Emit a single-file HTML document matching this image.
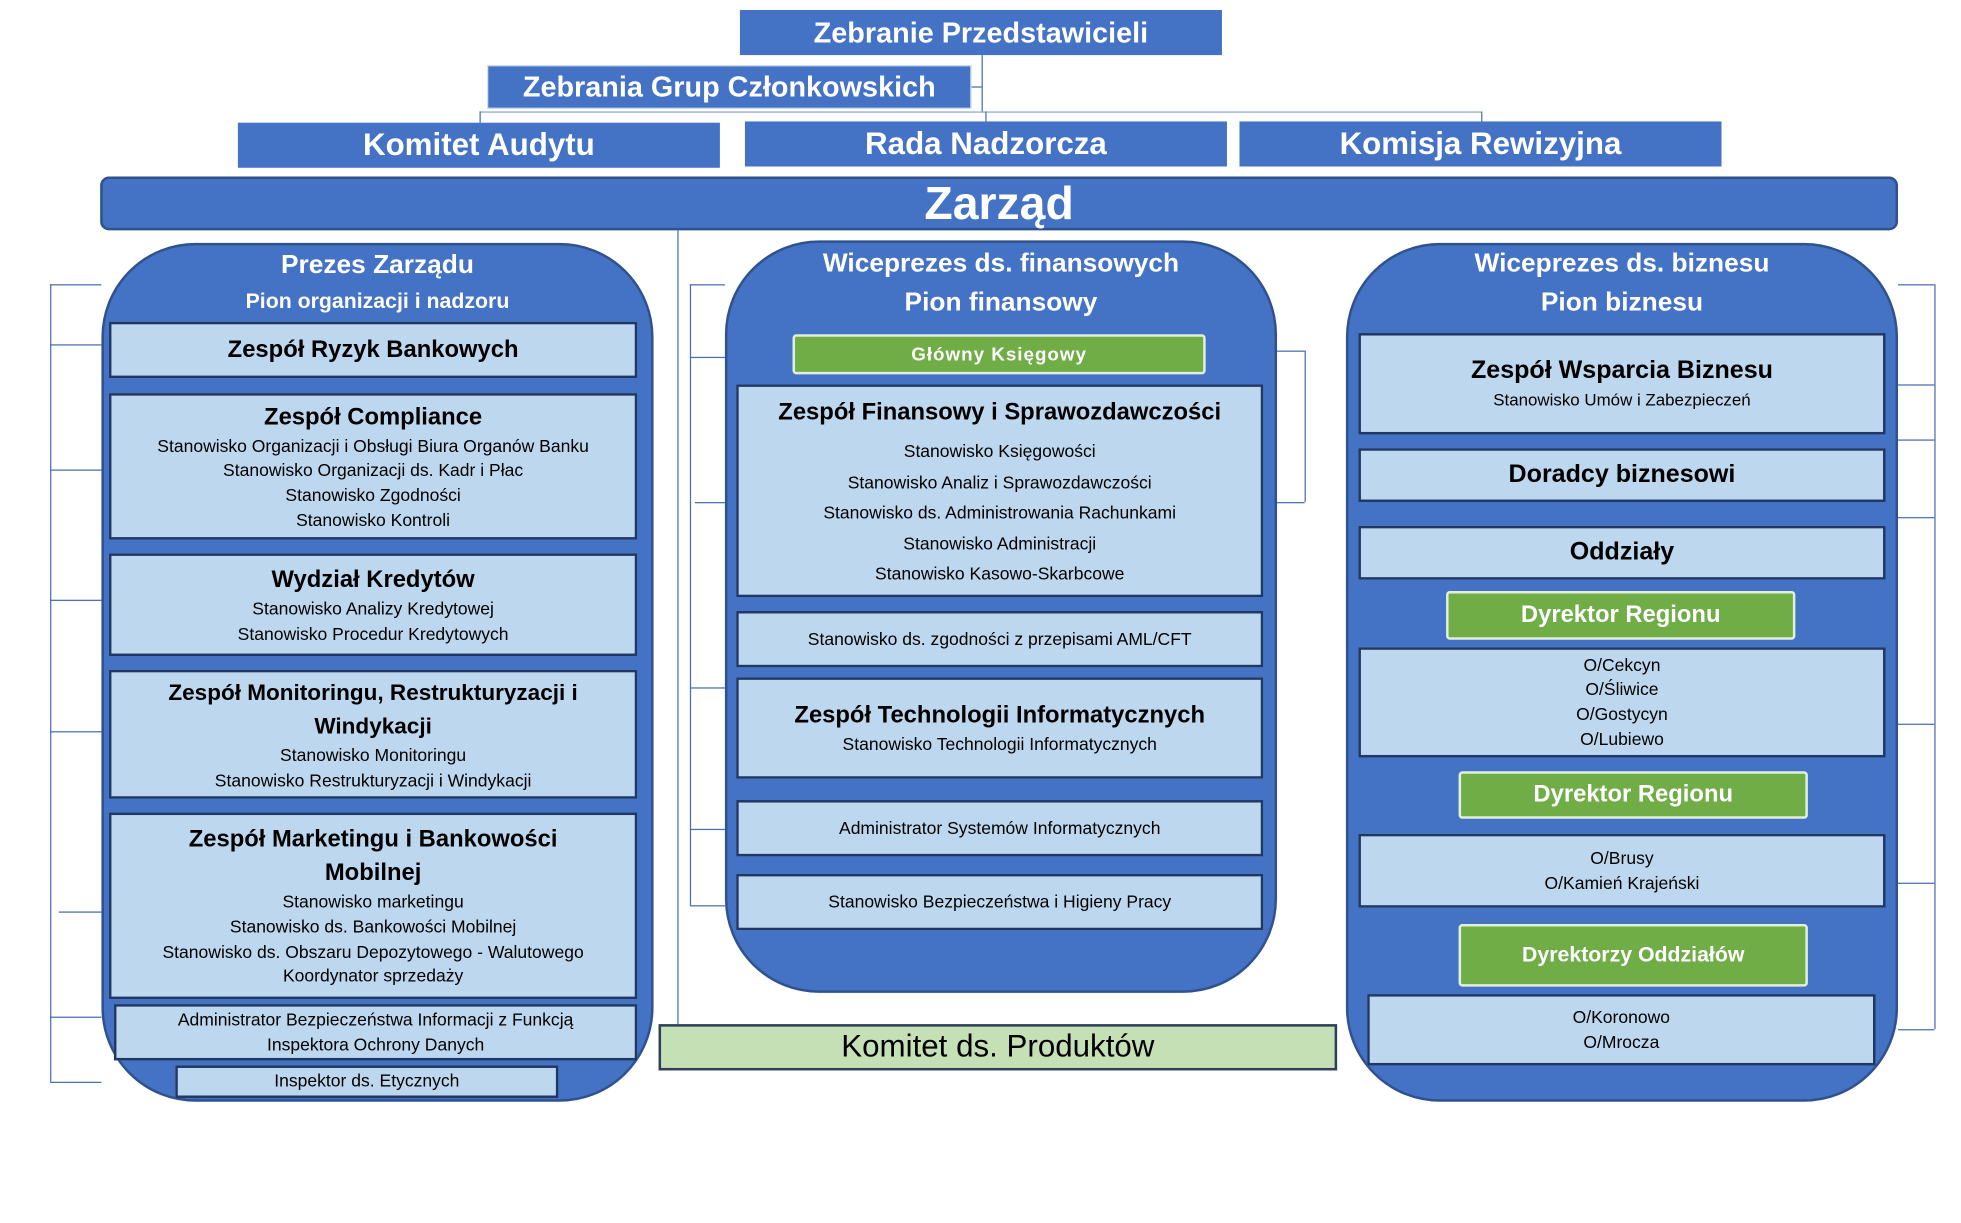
<!DOCTYPE html>
<html><head><meta charset="utf-8"><style>
html,body{margin:0;padding:0;background:#fff;}
body{width:1961px;height:1223px;overflow:hidden;position:relative;}
#w{position:absolute;left:0;top:0;width:1566px;height:977px;transform:scale(1.252);transform-origin:0 0;font-family:"Liberation Sans",sans-serif;}
.a{position:absolute;box-sizing:border-box;}
.hb{background:#4472c4;color:#fff;font-weight:bold;display:flex;align-items:center;justify-content:center;white-space:nowrap;}
.pill{background:#4472c4;border:2px solid #2f528f;border-radius:75px;}
.bx{background:#bdd7ee;border:2px solid #1f3864;display:flex;flex-direction:column;align-items:center;justify-content:center;color:#000;text-align:center;white-space:nowrap;}
.t{font-weight:bold;font-size:19px;line-height:27px;}
.s{font-size:14px;line-height:19.7px;}
.g{background:#70ad47;border:2px solid #e2efda;border-radius:3px;color:#fff;font-weight:bold;display:flex;align-items:center;justify-content:center;white-space:nowrap;}
.ttl{position:absolute;color:#fff;font-weight:bold;text-align:center;white-space:nowrap;}
.l{position:absolute;background:#4a6fb0;}
</style></head><body><div id="w">

<div class="a hb" style="left:591px;top:8px;width:385px;height:36px;font-size:23px;">Zebranie Przedstawicieli</div>
<div class="a hb" style="left:389px;top:52px;width:387px;height:35px;font-size:23px;border:1px solid #dbe4f3;">Zebrania Grup Członkowskich</div>
<div class="l" style="left:776px;top:69px;width:8px;height:1px;"></div>
<div class="l" style="left:784px;top:44px;width:1px;height:46px;"></div>
<div class="l" style="left:383px;top:89px;width:800px;height:1px;background:#8fa6cf;"></div>
<div class="l" style="left:383px;top:89px;width:1px;height:9px;"></div>
<div class="l" style="left:787px;top:89px;width:1px;height:8px;"></div>
<div class="l" style="left:1183px;top:89px;width:1px;height:8px;"></div>

<div class="a hb" style="left:190px;top:98px;width:385px;height:36px;font-size:25px;">Komitet Audytu</div>
<div class="a hb" style="left:595px;top:97px;width:385px;height:36px;font-size:25px;">Rada Nadzorcza</div>
<div class="a hb" style="left:990px;top:97px;width:385px;height:36px;font-size:25px;">Komisja Rewizyjna</div>

<div class="a hb" style="left:80px;top:141px;width:1436px;height:43px;font-size:37px;border:2px solid #2f528f;border-radius:7px;">Zarząd</div>
<div class="l" style="left:541px;top:184px;width:1px;height:634px;"></div>

<!-- left bracket -->
<div class="l" style="left:40px;top:227px;width:1px;height:637px;"></div>
<div class="l" style="left:40px;top:227px;width:41px;height:1px;"></div>
<div class="l" style="left:40px;top:275px;width:41px;height:1px;"></div>
<div class="l" style="left:40px;top:375px;width:41px;height:1px;"></div>
<div class="l" style="left:40px;top:479px;width:41px;height:1px;"></div>
<div class="l" style="left:40px;top:584px;width:41px;height:1px;"></div>
<div class="l" style="left:47px;top:728px;width:34px;height:1px;"></div>
<div class="l" style="left:40px;top:812px;width:41px;height:1px;"></div>
<div class="l" style="left:40px;top:864px;width:41px;height:1px;"></div>

<!-- left pill -->
<div class="a pill" style="left:81px;top:194px;width:441px;height:686px;"></div>
<div class="ttl" style="left:81px;width:441px;top:199px;font-size:21px;line-height:26px;">Prezes Zarządu</div>
<div class="ttl" style="left:81px;width:441px;top:230px;font-size:17px;line-height:22px;">Pion organizacji i nadzoru</div>
<div class="a bx" style="left:87px;top:257px;width:422px;height:45px;"><div class="t">Zespół Ryzyk Bankowych</div></div>
<div class="a bx" style="left:87px;top:314px;width:422px;height:117px;"><div class="t">Zespół Compliance</div><div class="s">Stanowisko Organizacji i Obsługi Biura Organów Banku</div><div class="s">Stanowisko Organizacji ds. Kadr i Płac</div><div class="s">Stanowisko Zgodności</div><div class="s">Stanowisko Kontroli</div></div>
<div class="a bx" style="left:87px;top:442px;width:422px;height:82px;"><div class="t">Wydział Kredytów</div><div class="s">Stanowisko Analizy Kredytowej</div><div class="s">Stanowisko Procedur Kredytowych</div></div>
<div class="a bx" style="left:87px;top:535px;width:422px;height:103px;"><div class="t" style="font-size:18px">Zespół Monitoringu, Restrukturyzacji i</div><div class="t" style="font-size:18px">Windykacji</div><div class="s">Stanowisko Monitoringu</div><div class="s">Stanowisko Restrukturyzacji i Windykacji</div></div>
<div class="a bx" style="left:87px;top:649px;width:422px;height:149px;"><div class="t">Zespół Marketingu i Bankowości</div><div class="t">Mobilnej</div><div class="s">Stanowisko marketingu</div><div class="s">Stanowisko ds. Bankowości Mobilnej</div><div class="s">Stanowisko ds. Obszaru Depozytowego - Walutowego</div><div class="s">Koordynator sprzedaży</div></div>
<div class="a bx" style="left:91px;top:802px;width:418px;height:45px;"><div class="s">Administrator Bezpieczeństwa Informacji z Funkcją</div><div class="s">Inspektora Ochrony Danych</div></div>
<div class="a bx" style="left:140px;top:851px;width:306px;height:26px;"><div class="s">Inspektor ds. Etycznych</div></div>

<!-- middle bracket -->
<div class="l" style="left:551px;top:227px;width:1px;height:496px;"></div>
<div class="l" style="left:551px;top:227px;width:28px;height:1px;"></div>
<div class="l" style="left:551px;top:285px;width:28px;height:1px;"></div>
<div class="l" style="left:555px;top:401px;width:24px;height:1px;"></div>
<div class="l" style="left:551px;top:549px;width:28px;height:1px;"></div>
<div class="l" style="left:551px;top:662px;width:28px;height:1px;"></div>
<div class="l" style="left:551px;top:723px;width:28px;height:1px;"></div>
<div class="l" style="left:1042px;top:280px;width:1px;height:121px;"></div>
<div class="l" style="left:1020px;top:280px;width:22px;height:1px;"></div>
<div class="l" style="left:1020px;top:401px;width:22px;height:1px;"></div>

<!-- middle pill -->
<div class="a pill" style="left:579px;top:192px;width:441px;height:601px;"></div>
<div class="ttl" style="left:579px;width:441px;top:198px;font-size:21px;line-height:26px;">Wiceprezes ds. finansowych</div>
<div class="ttl" style="left:579px;width:441px;top:229px;font-size:21px;line-height:26px;">Pion finansowy</div>
<div class="a g" style="left:633px;top:267px;width:330px;height:32px;font-size:15px;letter-spacing:0.8px;">Główny Księgowy</div>
<div class="a bx" style="left:588px;top:307px;width:421px;height:170px;justify-content:flex-start;padding-top:7px;"><div class="t" style="margin-bottom:5px">Zespół Finansowy i Sprawozdawczości</div><div class="s" style="line-height:24.6px">Stanowisko Księgowości</div><div class="s" style="line-height:24.6px">Stanowisko Analiz i Sprawozdawczości</div><div class="s" style="line-height:24.6px">Stanowisko ds. Administrowania Rachunkami</div><div class="s" style="line-height:24.6px">Stanowisko Administracji</div><div class="s" style="line-height:24.6px">Stanowisko Kasowo-Skarbcowe</div></div>
<div class="a bx" style="left:588px;top:488px;width:421px;height:45px;"><div class="s">Stanowisko ds. zgodności z przepisami AML/CFT</div></div>
<div class="a bx" style="left:588px;top:541px;width:421px;height:81px;"><div class="t">Zespół Technologii Informatycznych</div><div class="s">Stanowisko Technologii Informatycznych</div></div>
<div class="a bx" style="left:588px;top:639px;width:421px;height:45px;"><div class="s">Administrator Systemów Informatycznych</div></div>
<div class="a bx" style="left:588px;top:698px;width:421px;height:45px;"><div class="s">Stanowisko Bezpieczeństwa i Higieny Pracy</div></div>

<div class="a" style="left:526px;top:818px;width:542px;height:37px;background:#c5e0b4;border:2px solid #2e3f5c;display:flex;align-items:center;justify-content:center;font-size:25px;color:#000;">Komitet ds. Produktów</div>

<!-- right bracket -->
<div class="l" style="left:1545px;top:227px;width:1px;height:595px;"></div>
<div class="l" style="left:1516px;top:227px;width:29px;height:1px;"></div>
<div class="l" style="left:1516px;top:307px;width:29px;height:1px;"></div>
<div class="l" style="left:1516px;top:351px;width:29px;height:1px;"></div>
<div class="l" style="left:1516px;top:413px;width:29px;height:1px;"></div>
<div class="l" style="left:1516px;top:578px;width:29px;height:1px;"></div>
<div class="l" style="left:1516px;top:705px;width:29px;height:1px;"></div>
<div class="l" style="left:1516px;top:822px;width:29px;height:1px;"></div>

<!-- right pill -->
<div class="a pill" style="left:1075px;top:194px;width:441px;height:686px;"></div>
<div class="ttl" style="left:1075px;width:441px;top:198px;font-size:21px;line-height:26px;">Wiceprezes ds. biznesu</div>
<div class="ttl" style="left:1075px;width:441px;top:229px;font-size:21px;line-height:26px;">Pion biznesu</div>
<div class="a bx" style="left:1085px;top:266px;width:421px;height:81px;"><div class="t" style="font-size:20px">Zespół Wsparcia Biznesu</div><div class="s" style="font-size:13.5px">Stanowisko Umów i Zabezpieczeń</div></div>
<div class="a bx" style="left:1085px;top:358px;width:421px;height:43px;"><div class="t" style="font-size:20px">Doradcy biznesowi</div></div>
<div class="a bx" style="left:1085px;top:420px;width:421px;height:43px;"><div class="t" style="font-size:20px">Oddziały</div></div>
<div class="a g" style="left:1155px;top:472px;width:279px;height:39px;font-size:19px;">Dyrektor Regionu</div>
<div class="a bx" style="left:1085px;top:517px;width:421px;height:88px;"><div class="s">O/Cekcyn</div><div class="s">O/Śliwice</div><div class="s">O/Gostycyn</div><div class="s">O/Lubiewo</div></div>
<div class="a g" style="left:1165px;top:616px;width:279px;height:38px;font-size:19px;">Dyrektor Regionu</div>
<div class="a bx" style="left:1085px;top:666px;width:421px;height:59px;"><div class="s">O/Brusy</div><div class="s">O/Kamień Krajeński</div></div>
<div class="a g" style="left:1165px;top:738px;width:279px;height:50px;font-size:17px;">Dyrektorzy Oddziałów</div>
<div class="a bx" style="left:1092px;top:794px;width:406px;height:57px;"><div class="s">O/Koronowo</div><div class="s">O/Mrocza</div></div>

</div></body></html>
